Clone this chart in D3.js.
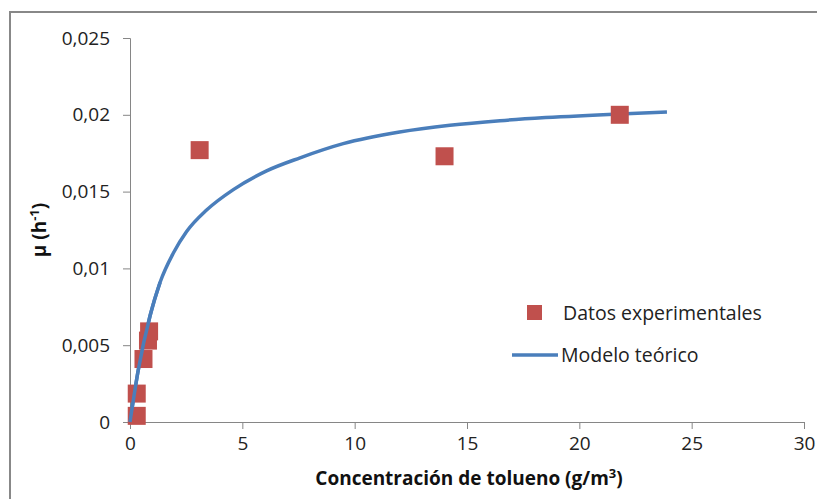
<!DOCTYPE html>
<html>
<head>
<meta charset="utf-8">
<script src="https://cdn.jsdelivr.net/npm/d3@7"></script>
<style>
  body { margin:0; background:#fff; }
  text { font-family:"Open Sans", sans-serif; fill:#222; }
</style>
</head>
<body>
<div id="canvas" class="canvas"></div>
<script>
// experimental points (concentration g/m3, mu h-1)
var expX = [0.3, 0.3, 0.6, 0.8, 0.85, 3.1, 14.0, 21.8];
var expY = [0.0004, 0.00185, 0.0041, 0.0053, 0.0059, 0.0177, 0.0173, 0.0200];

// theoretical model curve
var modX = [0, 0.37, 0.89, 1.34, 1.93, 2.52, 3.41, 4.6, 6.08, 7.57, 9.49, 12.0, 14.24, 16.47, 18.5, 21.8, 23.9];
var modY = [0, 0.0034, 0.0069, 0.0091, 0.0110, 0.0124, 0.0138, 0.01513, 0.01635, 0.0172, 0.01812, 0.01888, 0.01932, 0.01962, 0.01982, 0.02006, 0.02018];

var xTicks = [0, 5, 10, 15, 20, 25, 30];
var yTicks = [0, 0.005, 0.01, 0.015, 0.02, 0.025];

var outerWidth = 817, outerHeight = 499;
var m = {t:38, r:13, b:77, l:130};
var w = outerWidth - m.l - m.r,
    h = outerHeight - m.t - m.b;

var svg = d3.select('.canvas')
    .append('svg')
    .attr('width', outerWidth)
    .attr('height', outerHeight);

// outer chart frame
svg.append('rect')
    .attr('x', 10).attr('y', 12)
    .attr('width', 820).attr('height', 500)
    .style('fill', 'none')
    .style('stroke', '#888')
    .style('stroke-width', 2);

var plot = svg.append('g')
    .attr('transform', 'translate(' + m.l + ',' + m.t + ')');

var scaleX = d3.scaleLinear().domain([0, 30]).range([0, w]);
var scaleY = d3.scaleLinear().domain([0, 0.025]).range([h, 0]);

var fmt = function(d){ return d === 0 ? '0' : String(+d.toFixed(3)).replace('.', ','); };

var axisX = d3.axisBottom(scaleX).tickValues(xTicks).tickSize(7).tickPadding(8).tickFormat(fmt);
var axisY = d3.axisLeft(scaleY).tickValues(yTicks).tickSize(7).tickPadding(13).tickFormat(fmt);

var gx = plot.append('g').attr('transform', 'translate(0,' + h + ')').call(axisX);
var gy = plot.append('g').call(axisY);

[gx, gy].forEach(function(g){
    g.select('.domain').style('stroke', '#868686');
    g.selectAll('.tick line').style('stroke', '#868686');
    g.selectAll('.tick text')
        .style('font-family', '"Open Sans", sans-serif')
        .style('font-size', '19px')
        .style('fill', '#222');
});

// model line
var line = d3.line()
    .x(function(d){ return scaleX(d[0]); })
    .y(function(d){ return scaleY(d[1]); })
    .curve(d3.curveMonotoneX);

var modPts = modX.map(function(x, i){ return [x, modY[i]]; });

plot.append('path')
    .datum(modPts)
    .attr('d', line)
    .style('fill', 'none')
    .style('stroke', '#4a7ebb')
    .style('stroke-width', 3.5);

// experimental squares
var sq = 18;
plot.selectAll('rect.pt')
    .data(expX.map(function(x, i){ return [x, expY[i]]; }))
    .enter().append('rect')
    .attr('class', 'pt')
    .attr('x', function(d){ return scaleX(d[0]) - sq/2; })
    .attr('y', function(d){ return scaleY(d[1]) - sq/2; })
    .attr('width', sq).attr('height', sq)
    .style('fill', '#c0504d');

// model on top near the origin cluster (as in the picture)
plot.append('path')
    .datum(modPts.slice(0, 4))
    .attr('d', line)
    .style('fill', 'none')
    .style('stroke', '#4a7ebb')
    .style('stroke-width', 3.5);

// axis titles
svg.append('text')
    .attr('x', m.l + w/2 + 2).attr('y', 485)
    .attr('text-anchor', 'middle')
    .style('font-weight', 'bold').style('font-size', '19px').style('fill', '#111')
    .html('Concentración de tolueno (g/m<tspan dy="-7" font-size="13px">3</tspan><tspan dy="7">)</tspan>');

svg.append('text')
    .attr('transform', 'translate(46,' + (m.t + h/2) + ') rotate(-90)')
    .attr('text-anchor', 'middle')
    .style('font-weight', 'bold').style('font-size', '19px').style('fill', '#111')
    .html('µ (h<tspan dy="-7" font-size="13px">-1</tspan><tspan dy="7">)</tspan>');

// legend
var lg = svg.append('g');
lg.append('rect').attr('x', 527).attr('y', 305).attr('width', 15).attr('height', 15).style('fill', '#c0504d');
lg.append('text').attr('x', 563).attr('y', 320).style('font-size', '19.5px').text('Datos experimentales');
lg.append('line').attr('x1', 512).attr('x2', 558).attr('y1', 355).attr('y2', 355)
    .style('stroke', '#4a7ebb').style('stroke-width', 3.5);
lg.append('text').attr('x', 561).attr('y', 362).style('font-size', '19.5px').text('Modelo teórico');
</script>
</body>
</html>
